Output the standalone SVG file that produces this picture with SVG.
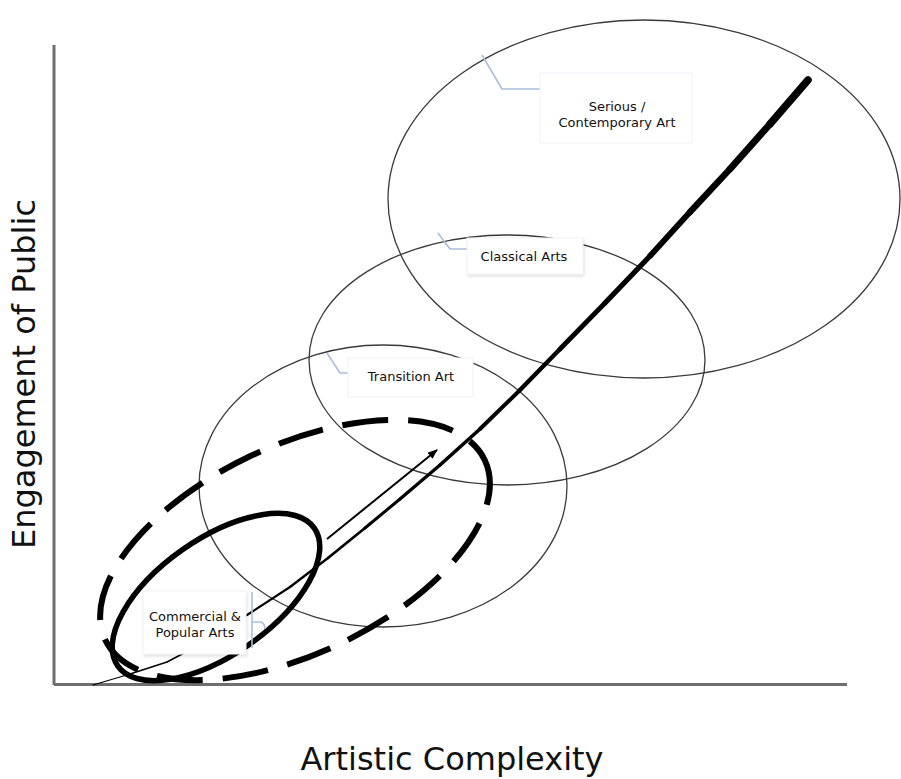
<svg xmlns="http://www.w3.org/2000/svg" width="901" height="779" viewBox="0 0 901 779">
<style>
.axis{stroke:#6f6f6f;stroke-width:3;fill:none}
.ell{fill:none;stroke:#3a3a3a;stroke-width:1.3}
.call{fill:none;stroke:#a9bedb;stroke-width:1.6}
.box{fill:#fff;stroke:#eef1f6;stroke-width:1}
.lbl{font-family:"DejaVu Sans",Verdana,sans-serif;font-size:13px;fill:#111;text-anchor:middle}
.title{font-family:"DejaVu Sans",Verdana,sans-serif;font-size:32px;fill:#111;text-anchor:middle}
.seg{stroke:#000;stroke-linecap:round;fill:none}
</style>
<defs>
<marker id="ah" markerWidth="10" markerHeight="8" refX="9" refY="4" orient="auto" markerUnits="userSpaceOnUse">
<path d="M0,0 L10,4 L0,8 z" fill="#000"/>
</marker>
<filter id="sh" x="-10%" y="-10%" width="130%" height="140%">
<feDropShadow dx="1" dy="2" stdDeviation="1.5" flood-color="#000" flood-opacity="0.12"/>
</filter>
</defs>
<rect width="901" height="779" fill="#fff"/>
<g id="axes">
<line class="axis" x1="54" y1="45" x2="54" y2="685"/>
<line class="axis" x1="54" y1="684.5" x2="847" y2="684.5"/>
</g>
<g id="ellipse-serious"><ellipse class="ell" cx="644" cy="199" rx="256" ry="179"/></g>
<g id="ellipse-classical"><ellipse class="ell" cx="507" cy="360" rx="198" ry="125"/></g>
<g id="ellipse-transition"><ellipse class="ell" cx="383" cy="486" rx="184" ry="141"/></g>
<g id="ellipse-dashed"><ellipse cx="0" cy="0" rx="210" ry="104" transform="translate(295,550) rotate(-25.4)" fill="none" stroke="#000" stroke-width="6" stroke-dasharray="46 20"/></g>
<g id="ellipse-commercial"><ellipse cx="0" cy="0" rx="120" ry="58" transform="translate(216,597) rotate(-35)" fill="none" stroke="#000" stroke-width="5.5"/></g>
<g id="connectors">
<g id="main-curve">
<line class="seg" x1="93" y1="685" x2="130" y2="674" stroke-width="1.3"/>
<line class="seg" x1="130" y1="674" x2="167" y2="662" stroke-width="1.4"/>
<line class="seg" x1="167" y1="662" x2="205" y2="642" stroke-width="1.6"/>
<line class="seg" x1="205" y1="642" x2="247" y2="615" stroke-width="1.8"/>
<line class="seg" x1="247" y1="615" x2="290" y2="587" stroke-width="2.1"/>
<line class="seg" x1="290" y1="587" x2="328" y2="558" stroke-width="2.4"/>
<line class="seg" x1="328" y1="558" x2="365" y2="528" stroke-width="2.7"/>
<line class="seg" x1="365" y1="528" x2="400" y2="499" stroke-width="3"/>
<line class="seg" x1="400" y1="499" x2="440" y2="465" stroke-width="3.3"/>
<line class="seg" x1="440" y1="465" x2="480" y2="429" stroke-width="3.6"/>
<line class="seg" x1="480" y1="429" x2="520" y2="390" stroke-width="4"/>
<line class="seg" x1="520" y1="390" x2="560" y2="349" stroke-width="4.4"/>
<line class="seg" x1="560" y1="349" x2="605" y2="303" stroke-width="4.8"/>
<line class="seg" x1="605" y1="303" x2="650" y2="256" stroke-width="5.3"/>
<line class="seg" x1="650" y1="256" x2="690" y2="212" stroke-width="5.8"/>
<line class="seg" x1="690" y1="212" x2="730" y2="169" stroke-width="6.3"/>
<line class="seg" x1="730" y1="169" x2="770" y2="124" stroke-width="6.9"/>
<line class="seg" x1="770" y1="124" x2="808" y2="80" stroke-width="7.5"/>
</g>
<line id="arrow" x1="327" y1="539" x2="437" y2="450" stroke="#000" stroke-width="2" marker-end="url(#ah)"/>
<path class="call" d="M482,55 L502,89 L540,89"/>
<path class="call" d="M438,233 L450,249 L467,249"/>
<path class="call" d="M327,353 L340,373 L348,373"/>
<path class="call" d="M252,592 L252,648 M252,622 L261,622 Q265,624 265,629"/>
</g>
<g id="node-serious">
<rect class="box" x="540" y="73" width="152" height="70"/>
<text class="lbl" x="617" y="111">Serious /</text>
<text class="lbl" x="617" y="127">Contemporary Art</text>
</g>
<g id="node-classical">
<rect class="box" x="467" y="238" width="116" height="36" filter="url(#sh)"/>
<text class="lbl" x="524" y="261">Classical Arts</text>
</g>
<g id="node-transition">
<rect class="box" x="348" y="358" width="125" height="39"/>
<text class="lbl" x="411" y="381">Transition Art</text>
</g>
<g id="node-commercial">
<rect class="box" x="143" y="591" width="103" height="63" filter="url(#sh)"/>
<text class="lbl" x="195" y="621">Commercial &amp;</text>
<text class="lbl" x="195" y="637">Popular Arts</text>
</g>
<g id="axis-labels">
<text class="title" x="452" y="770">Artistic Complexity</text>
<text class="title" transform="translate(35,374) rotate(-90)" x="0" y="0">Engagement of Public</text>
</g>
</svg>
